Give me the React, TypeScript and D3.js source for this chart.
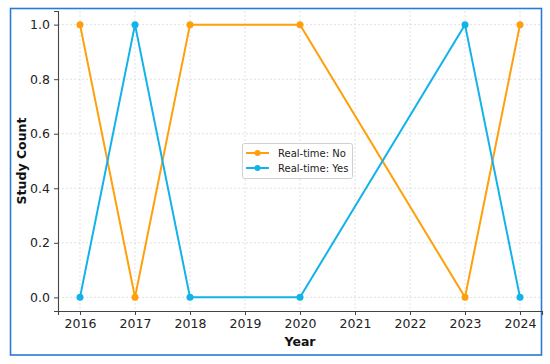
import React, { useEffect, useRef } from 'react';
import * as d3 from 'd3';

const years = [2016, 2017, 2018, 2020, 2023, 2024];
const realtimeNo = [1, 0, 1, 1, 0, 1];
const realtimeYes = [0, 1, 0, 0, 1, 0];
const xTicks = [2016, 2017, 2018, 2019, 2020, 2021, 2022, 2023, 2024];
const yTicks = [0, 0.2, 0.4, 0.6, 0.8, 1.0];
const seriesNames = ['Real-time: No', 'Real-time: Yes'];

const colors = ['#ff9f0a', '#12b2ea'];
const W = 550;
const H = 364;
const margin = { top: 11, right: 8, bottom: 53, left: 58 };
const font = '"DejaVu Sans", sans-serif';

export default function App() {
  const ref = useRef<SVGSVGElement>(null);

  useEffect(() => {
    const svg = d3.select(ref.current);
    svg.selectAll('*').remove();
    const width = W - margin.left - margin.right;
    const height = H - margin.top - margin.bottom;

    svg.append('rect')
      .attr('x', 0).attr('y', 0).attr('width', W).attr('height', H)
      .attr('fill', '#fff');

    // outer frame
    svg.append('rect')
      .attr('x', 10.5).attr('y', 8.5)
      .attr('width', 531).attr('height', 346.5)
      .attr('fill', 'none')
      .attr('stroke', '#2a7ad8')
      .attr('stroke-width', 1.6);

    const g = svg.append('g')
      .attr('transform', 'translate(' + margin.left + ',' + margin.top + ')');

    const x = d3.scaleLinear().domain([2015.6, 2024.4]).range([0, width]);
    const y = d3.scaleLinear().domain([-0.05, 1.05]).range([height, 0]);

    // grid
    g.append('g').selectAll('line')
      .data(xTicks)
      .enter().append('line')
      .attr('x1', (d) => x(d)).attr('x2', (d) => x(d))
      .attr('y1', 0).attr('y2', height)
      .attr('stroke', '#d9d9d9').attr('stroke-width', 0.8)
      .attr('stroke-dasharray', '2,2');
    g.append('g').selectAll('line')
      .data(yTicks)
      .enter().append('line')
      .attr('y1', (d) => y(d)).attr('y2', (d) => y(d))
      .attr('x1', 0).attr('x2', width)
      .attr('stroke', '#d9d9d9').attr('stroke-width', 0.8)
      .attr('stroke-dasharray', '2,2');

    const xAxis = d3.axisBottom(x).tickValues(xTicks).tickFormat(d3.format('d')).tickSizeOuter(0).tickSize(4).tickPadding(4);
    const yAxis = d3.axisLeft(y).tickValues(yTicks).tickFormat(d3.format('.1f')).tickSizeOuter(0).tickSize(4).tickPadding(4);

    const xg = g.append('g').attr('transform', 'translate(0,' + height + ')').call(xAxis);
    const yg = g.append('g').call(yAxis);
    [xg, yg].forEach((a) => {
      a.selectAll('text').attr('font-family', font).attr('font-size', 12.5).attr('fill', '#222');
      a.selectAll('line').attr('stroke', '#444');
      a.select('.domain').attr('stroke', '#444').attr('stroke-width', 1.1);
    });

    g.append('text')
      .attr('x', width / 2).attr('y', height + 35)
      .attr('text-anchor', 'middle')
      .attr('font-family', font).attr('font-size', 12.5).attr('font-weight', 'bold')
      .attr('fill', '#111')
      .text('Year');

    g.append('text')
      .attr('transform', 'translate(' + (-32) + ',' + (height / 2) + ') rotate(-90)')
      .attr('text-anchor', 'middle')
      .attr('font-family', font).attr('font-size', 12.5).attr('font-weight', 'bold')
      .attr('fill', '#111')
      .text('Study Count');

    const seriesData = [realtimeNo, realtimeYes];
    const line = d3.line<number>()
      .x((d, i) => x(years[i]))
      .y((d) => y(d));

    seriesData.forEach((vals, si) => {
      g.append('path')
        .datum(vals)
        .attr('d', line)
        .attr('fill', 'none')
        .attr('stroke', colors[si])
        .attr('stroke-width', 2);
      g.append('g').selectAll('circle')
        .data(vals)
        .enter().append('circle')
        .attr('cx', (d, i) => x(years[i]))
        .attr('cy', (d) => y(d))
        .attr('r', 3.5)
        .attr('fill', colors[si]);
    });

    // legend
    const lg = svg.append('g').attr('transform', 'translate(242,143)');
    lg.append('rect')
      .attr('x', 0.5).attr('y', 0.5).attr('width', 110).attr('height', 35)
      .attr('rx', 2)
      .attr('fill', 'rgba(255,255,255,0.85)')
      .attr('stroke', '#d0d0d0');
    seriesNames.forEach((name, i) => {
      const yy = 10 + i * 15;
      lg.append('line')
        .attr('x1', 4).attr('x2', 27).attr('y1', yy).attr('y2', yy)
        .attr('stroke', colors[i]).attr('stroke-width', 2);
      lg.append('circle')
        .attr('cx', 15.5).attr('cy', yy).attr('r', 3)
        .attr('fill', colors[i]);
      lg.append('text')
        .attr('x', 36).attr('y', yy + 3.6)
        .attr('font-family', font).attr('font-size', 10)
        .attr('fill', '#222')
        .text(name);
    });
  }, []);

  return (
    <svg
      ref={ref}
      width={W}
      height={H}
      style={{ position: 'absolute', left: 0, top: 0 }}
    ></svg>
  );
}
